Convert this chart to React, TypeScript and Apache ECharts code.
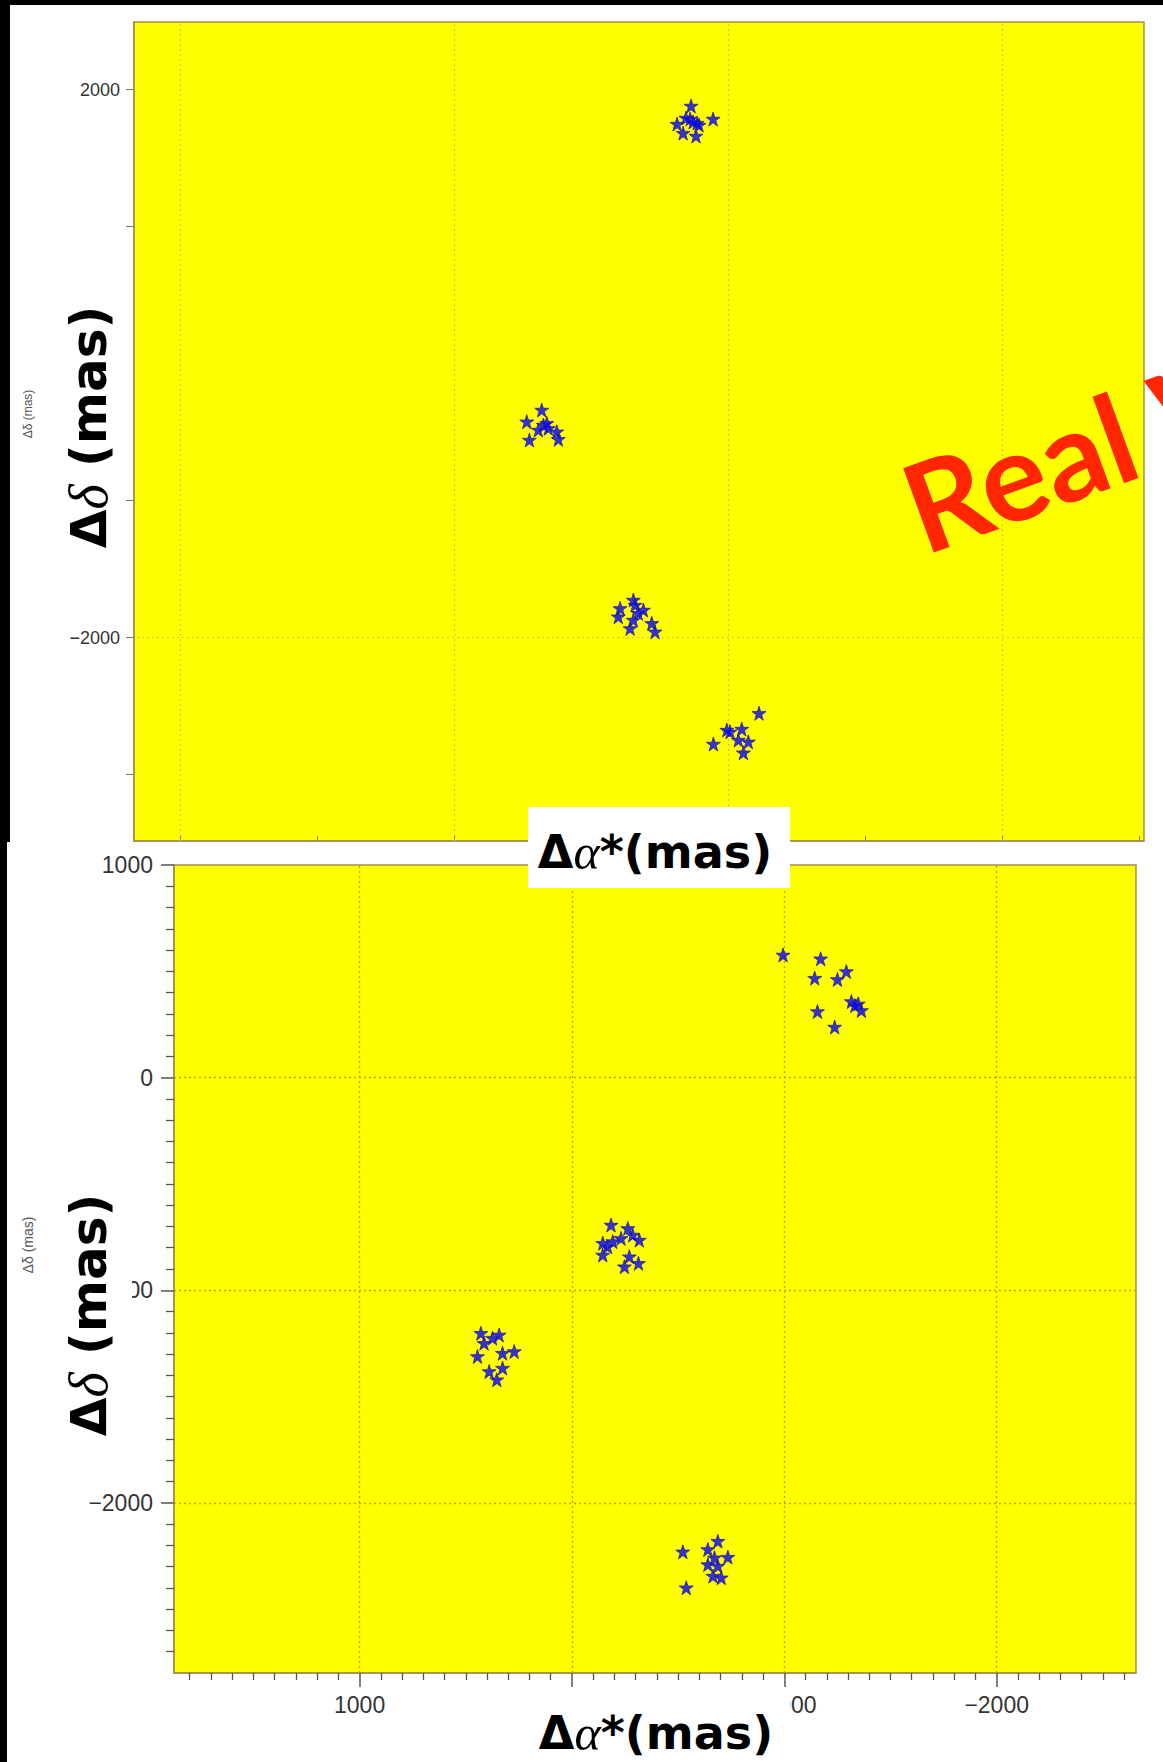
import React, { useEffect, useRef } from 'react';
import * as echarts from 'echarts';

// ---- Upper panel ("Real"): four epochs of measured positions (mas) ----
const realEpoch1 = [[270, 1880], [277, 1785], [226, 1755], [212, 1741], [372, 1748], [328, 1682], [234, 1661], [109, 1785], [255, 1763], [307, 1792]];
const realEpoch2 = [[1360, -339], [1469, -425], [1348, -449], [1312, -473], [1250, -498], [1385, -485], [1450, -558], [1239, -553], [1323, -436]];
const realEpoch3 = [[691, -1726], [788, -1787], [679, -1763], [618, -1799], [801, -1848], [691, -1872], [715, -1933], [557, -1896], [533, -1958], [655, -1823]];
const realEpoch4 = [[-226, -2553], [9, -2675], [-100, -2668], [107, -2777], [-75, -2748], [-148, -2761], [-112, -2841], [-15, -2688]];

// ---- Lower panel: four epochs ----
const simEpoch1 = [[-994, 577], [-1171, 559], [-1143, 468], [-1292, 499], [-1250, 462], [-1316, 358], [-1348, 347], [-1363, 316], [-1156, 311], [-1237, 238], [-1332, 339]];
const simEpoch2 = [[-184, -693], [-263, -709], [-145, -779], [-192, -771], [-231, -756], [-317, -764], [-145, -834], [-270, -842], [-247, -889], [-313, -873], [-286, -740], [-168, -795]];
const simEpoch3 = [[429, -1202], [343, -1210], [414, -1249], [445, -1311], [327, -1296], [272, -1288], [390, -1382], [327, -1366], [354, -1421], [374, -1225]];
const simEpoch4 = [[-522, -2230], [-687, -2180], [-640, -2219], [-734, -2255], [-671, -2258], [-640, -2290], [-687, -2297], [-664, -2344], [-703, -2352], [-538, -2399]];

// ---- Axis ticks / labels / grid lines ----
const topYLabels = [2000, -2000];
const topYTicks = [2000, 1000, -1000, -2000, -3000];
const topXTicks = [4000, 3000, 2000, 1000, 0, -1000, -2000, -3000];
const topXGrid = [4000, 2000, 0, -2000];
const topYGrid = [-2000];
const botTicks = [1000, 0, -1000, -2000];
const botXLabels = [1000, -1000, -2000];
const botYLabels = [1000, 0, -1000, -2000];
const botXGrid = [1000, 0, -1000, -2000];
const botYGrid = [0, -1000, -2000];

const STAR = 'path://M50,2 L61,36 L97,36 L68,57 L79,92 L50,71 L21,92 L32,57 L3,36 L39,36 Z';
const fmt = (v: number) => String(v).replace('-', '\u2212');

const W = 1163;
const H = 1762;

export default function App() {
  const ref = useRef<HTMLDivElement>(null);

  useEffect(() => {
    if (!ref.current) return;
    const chart = echarts.init(ref.current, null, { renderer: 'svg', width: W, height: H });

    const starSeries = (data: number[][], xi: number, yi: number) => ({
      type: 'scatter',
      xAxisIndex: xi,
      yAxisIndex: yi,
      data,
      symbol: STAR,
      symbolSize: 14,
      z: 5,
      itemStyle: { color: '#0000ff', borderColor: '#2a1f9a', borderWidth: 1 },
      silent: true,
    });

    const gridSeries = (xi: number, yi: number, xs: number[], ys: number[], color: string, width: number) => ({
      type: 'scatter',
      xAxisIndex: xi,
      yAxisIndex: yi,
      data: [],
      z: 1,
      silent: true,
      markLine: {
        silent: true,
        symbol: ['none', 'none'],
        label: { show: false },
        animation: false,
        lineStyle: { type: [2, 3], color, width },
        data: [...xs.map((v) => ({ xAxis: v })), ...ys.map((v) => ({ yAxis: v }))],
      },
    });

    const axisLineColor = '#a58f4e';
    const bigRich = {
      a: { fontFamily: 'DejaVu Sans', fontWeight: 'bold', fontSize: 46, fill: '#000' },
      g: { fontFamily: 'Liberation Serif', fontStyle: 'italic', fontSize: 50, fill: '#000' },
    };
    const sideRich = {
      a: { fontFamily: 'DejaVu Sans', fontWeight: 'bold', fontSize: 50, fill: '#000' },
      g: { fontFamily: 'Liberation Serif', fontStyle: 'italic', fontSize: 54, fill: '#000' },
    };

    chart.setOption({
      animation: false,
      backgroundColor: '#ffffff',
      grid: [
        { left: 134, top: 22, width: 1010, height: 819, show: true, backgroundColor: '#ffff00', borderColor: axisLineColor, borderWidth: 1.5 },
        { left: 174, top: 865, width: 962, height: 808, show: true, backgroundColor: '#ffff00', borderColor: axisLineColor, borderWidth: 1.5 },
      ],
      xAxis: [
        {
          type: 'value', gridIndex: 0, min: -3036, max: 4336, inverse: true, position: 'bottom',
          axisLine: { show: true, onZero: false, lineStyle: { color: axisLineColor, width: 1.5 } },
          axisTick: { show: true, inside: true, length: 5, customValues: topXTicks, lineStyle: { color: '#777' } },
          axisLabel: { show: false },
          splitLine: { show: false },
        },
        {
          type: 'value', gridIndex: 1, min: -2656, max: 1874, inverse: true, position: 'bottom', splitNumber: 5,
          axisLine: { show: true, onZero: false, lineStyle: { color: axisLineColor, width: 1.5 } },
          axisTick: { show: true, length: 14, customValues: botTicks, lineStyle: { color: '#555', width: 1.5 } },
          minorTick: { show: true, splitNumber: 10, length: 7, lineStyle: { color: '#555', width: 1.3 } },
          axisLabel: { show: true, customValues: botXLabels, formatter: fmt, fontFamily: 'Liberation Sans', fontSize: 23, color: '#333', margin: 20 },
          splitLine: { show: false },
        },
      ],
      yAxis: [
        {
          type: 'value', gridIndex: 0, min: -3485, max: 2493,
          axisLine: { show: true, onZero: false, lineStyle: { color: axisLineColor, width: 1.5 } },
          axisTick: { show: true, length: 8, customValues: topYTicks, lineStyle: { color: '#777' } },
          axisLabel: { show: true, customValues: topYLabels, formatter: fmt, fontFamily: 'Liberation Sans', fontSize: 18, color: '#333', margin: 14 },
          splitLine: { show: false },
        },
        {
          type: 'value', gridIndex: 1, min: -2800, max: 1000, splitNumber: 5,
          axisLine: { show: true, onZero: false, lineStyle: { color: axisLineColor, width: 1.5 } },
          axisTick: { show: true, length: 13, customValues: botTicks, lineStyle: { color: '#555', width: 1.5 } },
          minorTick: { show: true, splitNumber: 10, length: 8, lineStyle: { color: '#555', width: 1.3 } },
          axisLabel: { show: true, customValues: botYLabels, formatter: fmt, fontFamily: 'Liberation Sans', fontSize: 23, color: '#333', margin: 21 },
          splitLine: { show: false },
        },
      ],
      series: [
        gridSeries(0, 0, topXGrid, topYGrid, '#d2c25a', 1.2),
        gridSeries(1, 1, botXGrid, botYGrid, '#d09a10', 1.4),
        starSeries(realEpoch1, 0, 0),
        starSeries(realEpoch2, 0, 0),
        starSeries(realEpoch3, 0, 0),
        starSeries(realEpoch4, 0, 0),
        starSeries(simEpoch1, 1, 1),
        starSeries(simEpoch2, 1, 1),
        starSeries(simEpoch3, 1, 1),
        starSeries(simEpoch4, 1, 1),
      ],
      graphic: [
        // black frame strips
        { type: 'rect', z: 100, shape: { x: 0, y: 0, width: W, height: 5 }, style: { fill: '#000' } },
        { type: 'rect', z: 100, shape: { x: 0, y: 0, width: 10, height: 842 }, style: { fill: '#000' } },
        { type: 'rect', z: 100, shape: { x: 0, y: 842, width: 7, height: H - 842 }, style: { fill: '#000' } },
        // white boxes behind the overlaid titles
        { type: 'rect', z: 100, shape: { x: 50, y: 300, width: 76, height: 255 }, style: { fill: '#fff' } },
        { type: 'rect', z: 100, shape: { x: 50, y: 1188, width: 82, height: 252 }, style: { fill: '#fff' } },
        { type: 'rect', z: 100, shape: { x: 528, y: 807, width: 262, height: 81 }, style: { fill: '#fff' } },
        { type: 'rect', z: 100, shape: { x: 528, y: 1692, width: 262, height: 70 }, style: { fill: '#fff' } },
        // small original axis names
        { type: 'text', z: 101, x: 28, y: 414, rotation: Math.PI / 2, style: { text: 'Δδ (mas)', fontFamily: 'Liberation Sans', fontSize: 12, fill: '#555', align: 'center', verticalAlign: 'middle' } },
        { type: 'text', z: 101, x: 28, y: 1245, rotation: Math.PI / 2, style: { text: 'Δδ (mas)', fontFamily: 'Liberation Sans', fontSize: 14, fill: '#555', align: 'center', verticalAlign: 'middle' } },
        // large overlaid titles
        { type: 'text', z: 101, x: 89, y: 427, rotation: Math.PI / 2, style: { text: '{a|Δ}{g|δ}{a| (mas)}', rich: sideRich, align: 'center', verticalAlign: 'middle' } },
        { type: 'text', z: 101, x: 89, y: 1315, rotation: Math.PI / 2, style: { text: '{a|Δ}{g|δ}{a| (mas)}', rich: sideRich, align: 'center', verticalAlign: 'middle' } },
        { type: 'text', z: 101, x: 655, y: 852, style: { text: '{a|Δ}{g|α}{a|*(mas)}', rich: bigRich, align: 'center', verticalAlign: 'middle' } },
        { type: 'text', z: 101, x: 656, y: 1733, style: { text: '{a|Δ}{g|α}{a|*(mas)}', rich: bigRich, align: 'center', verticalAlign: 'middle' } },
        // red stamp
        { type: 'text', z: 102, x: 908, y: 511, rotation: (20 * Math.PI) / 180, style: { text: 'Real W', fontFamily: 'Lato', fontWeight: 'bold', fontSize: 124, fill: '#ff2600', align: 'left', verticalAlign: 'middle' } },
      ],
    });

    return () => chart.dispose();
  }, []);

  return <div ref={ref} style={{ position: 'absolute', left: 0, top: 0, width: W, height: H }} />;
}
